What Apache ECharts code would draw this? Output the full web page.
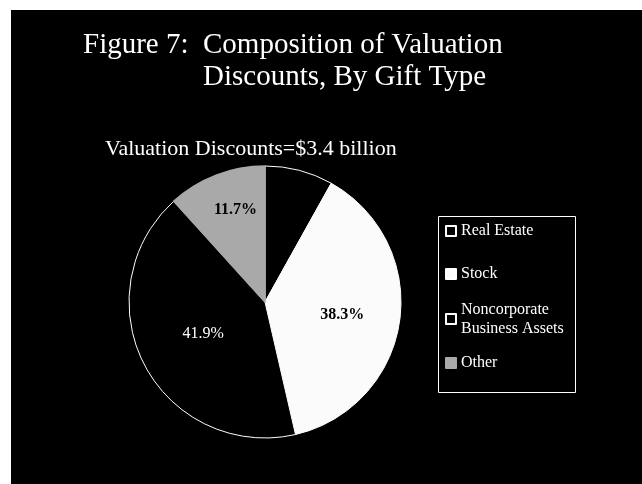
<!DOCTYPE html>
<html>
<head>
<meta charset="utf-8">
<script src="https://cdn.jsdelivr.net/npm/echarts@6/dist/echarts.min.js"></script>
<style>
html,body{margin:0;padding:0;background:#fff;}
#c{width:642px;height:484px;}
</style>
</head>
<body>
<div id="c"></div>
<script>
// ---- data ----
var categories = ['Real Estate', 'Stock', 'Noncorporate Business Assets', 'Other'];
var shares = [8.1, 38.3, 41.9, 11.7]; // percent of valuation discounts
var titleLine1 = 'Figure 7:  Composition of Valuation';
var titleLine2 = 'Discounts, By Gift Type';
var subtitleText = 'Valuation Discounts=$3.4 billion';

// ---- styles ----
var SERIF = '"Liberation Serif", "Times New Roman", serif';
var fills = ['#000000', '#fbfbfb', '#000000', '#a9a9a9'];
var borders = ['#ffffff', '#ffffff', '#ffffff', '#a9a9a9'];
var borderW = [1, 1, 1, 1.5];
var labelStyles = [
  {show: false},
  {show: true, color: '#000', fontWeight: 'bold', offset: [7, 3]},
  {show: true, color: '#fff', fontWeight: 'normal', offset: [1, -1]},
  {show: true, color: '#000', fontWeight: 'bold', offset: [-4, -26]}
];
var legendTops = [221.5, 264.5, 290.5, 353.5];

var pieData = categories.map(function (name, i) {
  return {
    name: name,
    value: shares[i],
    itemStyle: {color: fills[i], borderColor: borders[i], borderWidth: borderW[i]},
    label: labelStyles[i]
  };
});

var legends = categories.map(function (name, i) {
  var multi = name.indexOf('Noncorporate') === 0;
  return {
    data: [{
      name: name,
      textStyle: multi ? {padding: [19, 0, 0, 0]} : {}
    }],
    left: 445,
    top: legendTops[i],
    orient: 'vertical',
    padding: 0,
    itemWidth: 10,
    itemHeight: 10,
    icon: 'rect',
    selectedMode: false,
    formatter: function (n) { return n.replace('Noncorporate ', 'Noncorporate\n'); },
    textStyle: {color: '#fff', fontFamily: SERIF, fontSize: 16, lineHeight: 19}
  };
});

var chart = echarts.init(document.getElementById('c'), null, {renderer: 'canvas'});
chart.setOption({
  backgroundColor: '#ffffff',
  animation: false,
  graphic: [
    {type: 'rect', z: -10, shape: {x: 11, y: 10, width: 631, height: 474}, style: {fill: '#000'}},
    {type: 'rect', z: -5, shape: {x: 438.5, y: 216.5, width: 137, height: 176}, style: {fill: 'none', stroke: '#fff', lineWidth: 1}}
  ],
  title: [
    {text: titleLine1, left: 83, top: 30.5, padding: 0,
     textStyle: {color: '#fff', fontFamily: SERIF, fontSize: 29, fontWeight: 'normal'}},
    {text: titleLine2, left: 203, top: 62.5, padding: 0,
     textStyle: {color: '#fff', fontFamily: SERIF, fontSize: 29, fontWeight: 'normal'}},
    {text: subtitleText, left: 105, top: 138.5, padding: 0,
     textStyle: {color: '#fff', fontFamily: SERIF, fontSize: 22, fontWeight: 'normal'}}
  ],
  legend: legends,
  series: [{
    type: 'pie',
    center: [265, 302],
    radius: 136,
    startAngle: 90,
    clockwise: true,
    avoidLabelOverlap: false,
    label: {
      position: 'inside',
      fontFamily: SERIF,
      fontSize: 16,
      formatter: function (p) { return p.value.toFixed(1) + '%'; }
    },
    labelLine: {show: false},
    emphasis: {disabled: true},
    data: pieData
  }]
});
</script>
</body>
</html>
